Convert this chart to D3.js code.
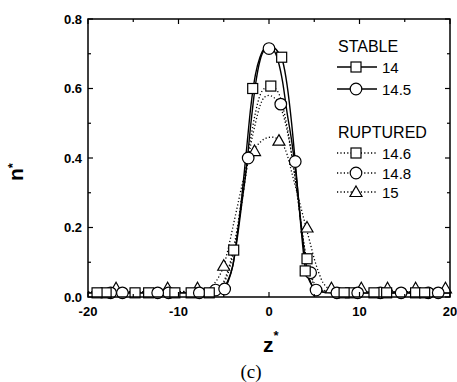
<!DOCTYPE html>
<html>
<head>
<meta charset="utf-8">
<script src="https://cdn.jsdelivr.net/npm/d3@7"></script>
<style>
  body { margin: 0; background: #fff; }
  svg { display: block; }
</style>
</head>
<body>
<svg id="chart" width="457" height="382"></svg>
<script>
// tick labels
const xTicks = [-20, -10, 0, 10, 20];
const yTicks = [0, 0.2, 0.4, 0.6, 0.8];

// smooth curves (z*, n*)
const curve14 = [[-20,0.012],[-8,0.012],[-6,0.014],[-5,0.025],[-4.5,0.05],[-4,0.09],[-3.5,0.18],[-3,0.29],[-2.5,0.42],[-2,0.55],[-1.5,0.64],[-1,0.69],[-0.5,0.715],[0.3,0.72],[1,0.705],[1.5,0.68],[2,0.61],[2.5,0.5],[3,0.36],[3.5,0.21],[4,0.085],[4.5,0.045],[5,0.025],[6,0.014],[8,0.012],[20,0.012]];
const curve145 = [[-20,0.012],[-8,0.012],[-6,0.014],[-5,0.022],[-4.5,0.045],[-4,0.09],[-3.5,0.17],[-3,0.27],[-2.5,0.37],[-2,0.5],[-1.5,0.61],[-1,0.68],[-0.5,0.71],[0,0.715],[0.5,0.71],[1,0.68],[1.5,0.62],[2,0.53],[2.5,0.45],[3,0.35],[3.5,0.22],[4,0.11],[4.5,0.05],[5,0.025],[6,0.014],[8,0.012],[20,0.012]];
const curve146 = [[-20,0.015],[-7,0.015],[-6,0.02],[-5,0.045],[-4.5,0.08],[-4,0.13],[-3.5,0.2],[-3,0.29],[-2.5,0.38],[-2,0.46],[-1.5,0.53],[-1,0.58],[-0.5,0.6],[0.2,0.607],[1,0.59],[1.5,0.55],[2,0.49],[2.5,0.41],[3,0.32],[3.5,0.22],[4,0.13],[4.5,0.07],[5,0.035],[6,0.018],[7,0.015],[20,0.015]];
const curve148 = [[-20,0.015],[-7,0.015],[-6,0.02],[-5,0.04],[-4.5,0.07],[-4,0.12],[-3.5,0.19],[-3,0.27],[-2.5,0.36],[-2,0.44],[-1.5,0.5],[-1,0.55],[-0.5,0.575],[0,0.58],[0.5,0.575],[1,0.56],[1.5,0.53],[2,0.48],[2.5,0.41],[3,0.32],[3.5,0.22],[4,0.13],[4.5,0.075],[5,0.04],[6,0.02],[7,0.015],[20,0.015]];
const curve15 = [[-20,0.015],[-8,0.016],[-7,0.02],[-6,0.04],[-5.5,0.06],[-5,0.09],[-4.5,0.14],[-4,0.2],[-3.5,0.26],[-3,0.32],[-2.5,0.37],[-2,0.41],[-1.5,0.43],[-1,0.445],[-0.5,0.455],[0.3,0.46],[1,0.455],[1.5,0.44],[2,0.41],[2.5,0.36],[3,0.31],[3.5,0.26],[4,0.21],[4.5,0.16],[5,0.11],[5.5,0.07],[6,0.04],[7,0.02],[8,0.016],[20,0.015]];

// data markers
const marks14 = [[-19,0.012],[-14.8,0.012],[-10.4,0.012],[-6.6,0.012],[-1.8,0.6],[1.4,0.69],[4.0,0.075],[8.3,0.012],[13.0,0.012],[17.2,0.012]];
const marks145 = [[-16.2,0.012],[-12.3,0.012],[-7.7,0.012],[-4.9,0.023],[-2.3,0.4],[0,0.715],[2.9,0.39],[5.2,0.02],[9.8,0.012],[14.6,0.012],[18.7,0.012]];
const marks146 = [[-18,0.012],[-13.3,0.012],[-8.6,0.012],[-3.9,0.135],[0.2,0.607],[4.2,0.11],[9,0.012],[11.6,0.012],[16.2,0.012]];
const marks148 = [[-17.5,0.012],[-11.1,0.012],[-5.9,0.02],[1.3,0.555],[4.6,0.07],[7.5,0.012],[12.3,0.012],[17.6,0.012]];
const marks15 = [[-16.9,0.025],[-11.2,0.025],[-7.9,0.025],[-5,0.09],[-1.6,0.42],[1.1,0.45],[4.2,0.2],[6.9,0.025],[10.2,0.025],[13.1,0.025],[16.2,0.025],[19.5,0.025]];

const seriesNames = ["14", "14.5", "14.6", "14.8", "15"];

const series = [
  { name: seriesNames[0], curve: curve14, marks: marks14, shape: "square", dash: null },
  { name: seriesNames[1], curve: curve145, marks: marks145, shape: "circle", dash: null },
  { name: seriesNames[2], curve: curve146, marks: marks146, shape: "square", dash: "1.2,2.2" },
  { name: seriesNames[3], curve: curve148, marks: marks148, shape: "circle", dash: "1.2,2.2" },
  { name: seriesNames[4], curve: curve15, marks: marks15, shape: "triangle", dash: "1.2,2.2" }
];

const svg = d3.select("#chart");
const plotL = 88, plotR = 450, plotT = 19, plotB = 297;

const x = d3.scaleLinear().domain([-20, 20]).range([plotL, plotR]);
const y = d3.scaleLinear().domain([0, 0.8]).range([plotB, plotT]);

const fontSans = "'Liberation Sans', Arial, sans-serif";

// curves
const line = d3.line().x(d => x(d[0])).y(d => y(d[1])).curve(d3.curveMonotoneX);
series.slice().reverse().forEach(s => {
  svg.append("path").datum(s.curve)
    .attr("fill", "none").attr("stroke", "#000")
    .attr("stroke-width", s.dash ? 1.3 : 1.4)
    .attr("stroke-dasharray", s.dash)
    .attr("d", line);
});

function drawMarker(g, shape, cx, cy) {
  if (shape === "square") {
    g.append("rect").attr("x", cx - 5).attr("y", cy - 5).attr("width", 10).attr("height", 10)
      .attr("fill", "#fff").attr("stroke", "#000").attr("stroke-width", 1.2);
  } else if (shape === "circle") {
    g.append("circle").attr("cx", cx).attr("cy", cy).attr("r", 5.8)
      .attr("fill", "#fff").attr("stroke", "#000").attr("stroke-width", 1.2);
  } else {
    g.append("path").attr("d", `M${cx},${cy - 6}L${cx + 6},${cy + 4.5}L${cx - 6},${cy + 4.5}Z`)
      .attr("fill", "#fff").attr("stroke", "#000").attr("stroke-width", 1.2);
  }
}

const markG = svg.append("g");
series.slice().reverse().forEach(s => {
  s.marks.forEach(d => drawMarker(markG, s.shape, x(d[0]), y(d[1])));
});

// frame and inward ticks on all four sides
const axisG = svg.append("g");
axisG.append("rect").attr("x", plotL).attr("y", plotT).attr("width", plotR - plotL).attr("height", plotB - plotT)
  .attr("fill", "none").attr("stroke", "#000").attr("stroke-width", 1.5);

const xMinor = d3.range(-20, 20.01, 5);
const yMinor = d3.range(0, 0.801, 0.1);
xMinor.forEach(v => {
  const len = xTicks.includes(v) ? 5 : 3;
  axisG.append("line").attr("x1", x(v)).attr("x2", x(v)).attr("y1", plotB).attr("y2", plotB - len).attr("stroke", "#000").attr("stroke-width", 1.2);
  axisG.append("line").attr("x1", x(v)).attr("x2", x(v)).attr("y1", plotT).attr("y2", plotT + len).attr("stroke", "#000").attr("stroke-width", 1.2);
});
yMinor.forEach((v, i) => {
  const len = i % 2 === 0 ? 5 : 3;
  axisG.append("line").attr("x1", plotL).attr("x2", plotL + len).attr("y1", y(v)).attr("y2", y(v)).attr("stroke", "#000").attr("stroke-width", 1.2);
  axisG.append("line").attr("x1", plotR).attr("x2", plotR - len).attr("y1", y(v)).attr("y2", y(v)).attr("stroke", "#000").attr("stroke-width", 1.2);
});

// tick labels
axisG.selectAll(".xl").data(xTicks).enter().append("text")
  .attr("x", d => x(d)).attr("y", plotB + 19)
  .attr("text-anchor", "middle").attr("font-family", fontSans).attr("font-weight", "bold").attr("font-size", 13)
  .text(d => d);
axisG.selectAll(".yl").data(yTicks).enter().append("text")
  .attr("x", plotL - 6).attr("y", d => y(d) + 4.5)
  .attr("text-anchor", "end").attr("font-family", fontSans).attr("font-weight", "bold").attr("font-size", 13)
  .text(d => d.toFixed(1));

// axis titles
const xt = svg.append("text").attr("x", 263).attr("y", 352)
  .attr("font-family", fontSans).attr("font-weight", "bold").attr("font-size", 21);
xt.append("tspan").text("z");
xt.append("tspan").attr("dy", -12).attr("font-size", 13).text("*");

const yt = svg.append("text").attr("transform", "translate(23,181) rotate(-90)")
  .attr("font-family", fontSans).attr("font-weight", "bold").attr("font-size", 21);
yt.append("tspan").text("n");
yt.append("tspan").attr("dy", -6).attr("font-size", 13).text("*");

svg.append("text").attr("x", 251).attr("y", 378).attr("text-anchor", "middle")
  .attr("font-family", "'Liberation Serif', 'Times New Roman', serif").attr("font-size", 19)
  .text("(c)");

// legend
const legend = svg.append("g").attr("font-family", fontSans);
legend.append("text").attr("x", 338).attr("y", 52).attr("font-size", 16).text("STABLE");
legend.append("text").attr("x", 338).attr("y", 138).attr("font-size", 16).text("RUPTURED");
const legendY = [67, 89, 153, 173, 192];
series.forEach((s, i) => {
  const ly = legendY[i];
  legend.append("line").attr("x1", 337).attr("x2", 377).attr("y1", ly).attr("y2", ly)
    .attr("stroke", "#000").attr("stroke-width", 1.4).attr("stroke-dasharray", s.dash);
  drawMarker(legend, s.shape, 356, ly);
  legend.append("text").attr("x", 382).attr("y", ly + 5.5).attr("font-size", 15).text(s.name);
});
</script>
</body>
</html>
